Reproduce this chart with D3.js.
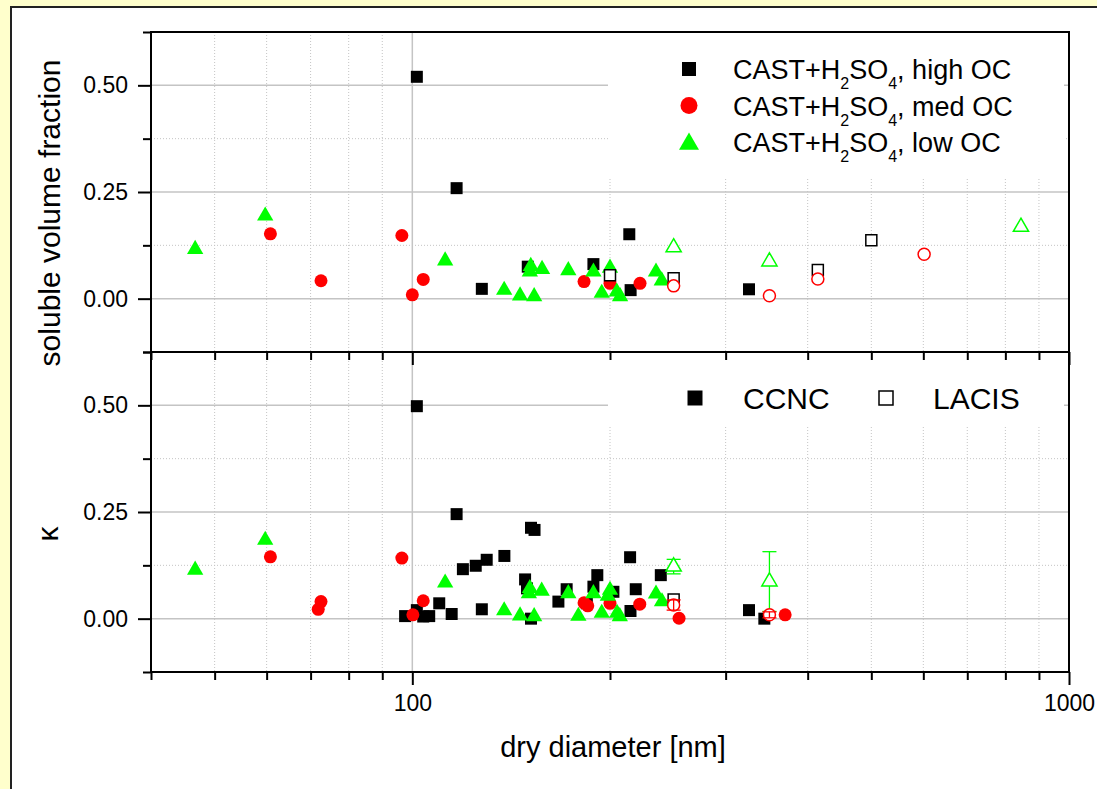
<!DOCTYPE html>
<html>
<head>
<meta charset="utf-8">
<script src="https://cdn.jsdelivr.net/npm/d3@7"></script>
<style>
body{margin:0;background:#ffffcc;}
svg{display:block;font-family:"Liberation Sans",Arial,sans-serif;}
</style>
</head>
<body>
<svg id="chart"></svg>
<script>

// [dry diameter nm, value]  -- soluble volume fraction panel
var highSvfCCNC = [[101.6,0.520],[116.8,0.259],[127.6,0.023],[149.9,0.075],[188.7,0.081],[214,0.151],[215,0.020],[325.6,0.022]];
var highSvfLACIS = [[200,0.055],[250,0.048],[414.5,0.067],[500,0.137]];
var medSvfCCNC = [[60.8,0.152],[72.6,0.042],[96.4,0.148],[100,0.009],[103.9,0.045],[182.6,0.040],[200,0.036],[222.2,0.036]];
var medSvfLACIS = [[250,0.030],[349.8,0.007],[414.5,0.046],[601.7,0.104]];
var lowSvfCCNC = [[46.7,0.116],[59.7,0.194],[112.2,0.089],[138,0.020],[145.9,0.007],[151,0.063],[151.5,0.076],[157.6,0.069],[153.3,0.005],[172.8,0.066],[188.7,0.063],[194.3,0.013],[200,0.072],[204.8,0.016],[207.2,0.005],[235,0.063],[239.8,0.042]];
var lowSvfLACIS = [[250,0.120],[349.8,0.087],[845,0.168]];

// [dry diameter nm, value]  -- kappa panel
var highKapCCNC = [[97.5,0.006],[101.6,0.020],[103.9,0.005],[106.1,0.006],[101.6,0.498],[109.9,0.036],[114.8,0.011],[116.8,0.245],[119.4,0.116],[124.9,0.124],[127.6,0.022],[129.8,0.138],[138.1,0.147],[148.5,0.092],[149.5,0.071],[151.6,0.213],[153.5,0.208],[151.6,0.000],[166.9,0.040],[171.8,0.069],[184.4,0.036],[188.7,0.075],[191.3,0.102],[202.4,0.063],[214.6,0.144],[214.9,0.018],[218.9,0.069],[239,0.102],[325.6,0.020],[343.6,0.000]];
var highKapLACIS = [[250,0.045]];
var medKapCCNC = [[60.8,0.145],[71.9,0.022],[72.6,0.040],[96.4,0.142],[100.2,0.009],[103.9,0.042],[182.6,0.037],[185,0.030],[200,0.036],[222,0.034],[254.8,0.001],[369.6,0.009]];
var medKapLACIS = [[250,0.032],[349.8,0.009]];
var medKapLACISErr = [0.012,0.007];
var lowKapCCNC = [[46.7,0.114],[59.7,0.184],[112.2,0.084],[138,0.019],[145.9,0.007],[151,0.071],[150.5,0.059],[157.4,0.065],[153.3,0.005],[172.8,0.059],[179,0.006],[188.7,0.059],[194.3,0.013],[200,0.067],[198.5,0.053],[205,0.013],[207,0.005],[235,0.058],[240,0.040]];
var lowKapLACIS = [[250,0.122],[349.8,0.087]];
var lowKapLACISErr = [0.017,0.070];

var xMajor = [100,1000];
var xMinor = [40,50,60,70,80,90,200,300,400,500,600,700,800,900];
var yMajor = [0,0.25,0.5];
var yMinor = [-0.125,0.125,0.375,0.625];

var legendNames = ["high OC","med OC","low OC"];
var legendMethods = ["CCNC","LACIS"];

var screen = {width:1097, height:789};
var plot = {left:151, right:1069, top:32, mid:352, bottom:672};

var svg = d3.select("#chart")
    .attr("width",screen.width)
    .attr("height",screen.height);

// page frame
svg.append("rect")
    .attr("x",11).attr("y",7)
    .attr("width",1110).attr("height",800)
    .attr("fill","white")
    .attr("stroke","#222")
    .attr("stroke-width",2);

var xScale = d3.scaleLog().domain([40,1000]).range([plot.left,plot.right]);
var yTop = d3.scaleLinear().domain([-0.125,0.625]).range([plot.mid,plot.top]);
var yBot = d3.scaleLinear().domain([-0.125,0.625]).range([plot.bottom,plot.mid]);

var colors = {high:"#000000", med:"#ff0000", low:"#00ff00"};

var drawGrid = function(yScale,y0,y1)
{
    var grid = svg.append("g").classed("grid",true);
    grid.selectAll(".vminor").data(xMinor).enter().append("line")
        .attr("x1",function(d){return xScale(d);})
        .attr("x2",function(d){return xScale(d);})
        .attr("y1",y0).attr("y2",y1)
        .attr("stroke","#c4c4c4").attr("stroke-width",1)
        .attr("stroke-dasharray","1,2");
    grid.selectAll(".vmajor").data(xMajor).enter().append("line")
        .attr("x1",function(d){return xScale(d);})
        .attr("x2",function(d){return xScale(d);})
        .attr("y1",y0).attr("y2",y1)
        .attr("stroke","#c4c4c4").attr("stroke-width",1.5);
    grid.selectAll(".hminor").data(yMinor).enter().append("line")
        .attr("x1",plot.left).attr("x2",plot.right)
        .attr("y1",function(d){return yScale(d);})
        .attr("y2",function(d){return yScale(d);})
        .attr("stroke","#c4c4c4").attr("stroke-width",1)
        .attr("stroke-dasharray","1,2");
    grid.selectAll(".hmajor").data(yMajor).enter().append("line")
        .attr("x1",plot.left).attr("x2",plot.right)
        .attr("y1",function(d){return yScale(d);})
        .attr("y2",function(d){return yScale(d);})
        .attr("stroke","#c4c4c4").attr("stroke-width",1.5);
}

var drawAxes = function(yScale,y0,y1,xLabels)
{
    var axes = svg.append("g").classed("axes",true);

    var xMaj = d3.axisBottom(xScale).tickValues(xMajor).tickSize(13).tickPadding(10)
        .tickSizeOuter(0).tickFormat(xLabels ? d3.format("d") : "");
    var xMin = d3.axisBottom(xScale).tickValues(xMinor).tickSize(8)
        .tickSizeOuter(0).tickFormat("");
    var yMaj = d3.axisLeft(yScale).tickValues(yMajor).tickSize(13).tickPadding(10)
        .tickSizeOuter(0).tickFormat(d3.format(".2f"));
    var yMin = d3.axisLeft(yScale).tickValues(yMinor).tickSize(8)
        .tickSizeOuter(0).tickFormat("");

    [xMaj,xMin].forEach(function(ax)
    {
        axes.append("g").attr("transform","translate(0,"+y1+")").call(ax);
    });
    [yMaj,yMin].forEach(function(ax)
    {
        axes.append("g").attr("transform","translate("+plot.left+",0)").call(ax);
    });

    axes.selectAll(".domain").remove();
    axes.selectAll(".tick line").attr("stroke","black").attr("stroke-width",2);
    axes.selectAll(".tick text")
        .attr("fill","black")
        .style("font-size","23px")
        .style("font-family","'Liberation Sans',Arial,sans-serif");

    axes.append("rect")
        .attr("x",plot.left).attr("y",y0)
        .attr("width",plot.right-plot.left).attr("height",y1-y0)
        .attr("fill","none").attr("stroke","black").attr("stroke-width",2);
}

var drawPoints = function(data,yScale,shape,size,color,filled)
{
    svg.append("g").selectAll("path")
        .data(data)
        .enter()
        .append("path")
        .attr("d",d3.symbol().type(shape).size(size))
        .attr("transform",function(d)
        {
            return "translate("+xScale(d[0])+","+yScale(d[1])+")";
        })
        .attr("fill",filled ? color : "white")
        .attr("stroke",filled ? "none" : color)
        .attr("stroke-width",1.5);
}

var drawErrors = function(data,errs,yScale,color)
{
    var g = svg.append("g").attr("stroke",color).attr("stroke-width",1.3);
    data.forEach(function(d,i)
    {
        var x = xScale(d[0]);
        var lo = yScale(d[1]-errs[i]);
        var hi = yScale(d[1]+errs[i]);
        g.append("line").attr("x1",x).attr("x2",x).attr("y1",lo).attr("y2",hi);
        g.append("line").attr("x1",x-7).attr("x2",x+7).attr("y1",lo).attr("y2",lo);
        g.append("line").attr("x1",x-7).attr("x2",x+7).attr("y1",hi).attr("y2",hi);
    });
}

// grids
drawGrid(yTop,plot.top,plot.mid);
drawGrid(yBot,plot.mid,plot.bottom);

// legend backgrounds cover the grid
svg.append("rect").attr("x",608).attr("y",33).attr("width",456).attr("height",146).attr("fill","white");
svg.append("rect").attr("x",608).attr("y",353).attr("width",456).attr("height",72).attr("fill","white");

// top panel points
drawPoints(highSvfCCNC,yTop,d3.symbolSquare,144,colors.high,true);
drawPoints(medSvfCCNC,yTop,d3.symbolCircle,133,colors.med,true);
drawPoints(lowSvfCCNC,yTop,d3.symbolTriangle,115,colors.low,true);
drawPoints(highSvfLACIS,yTop,d3.symbolSquare,121,colors.high,false);
drawPoints(medSvfLACIS,yTop,d3.symbolCircle,113,colors.med,false);
drawPoints(lowSvfLACIS,yTop,d3.symbolTriangle,100,colors.low,false);

// bottom panel points
drawPoints(highKapCCNC,yBot,d3.symbolSquare,144,colors.high,true);
drawPoints(medKapCCNC,yBot,d3.symbolCircle,133,colors.med,true);
drawPoints(lowKapCCNC,yBot,d3.symbolTriangle,115,colors.low,true);
drawPoints(highKapLACIS,yBot,d3.symbolSquare,121,colors.high,false);
drawErrors(lowKapLACIS,lowKapLACISErr,yBot,colors.low);
drawPoints(lowKapLACIS,yBot,d3.symbolTriangle,100,colors.low,false);
drawPoints(medKapLACIS,yBot,d3.symbolCircle,113,colors.med,false);
drawErrors(medKapLACIS,medKapLACISErr,yBot,colors.med);

drawAxes(yTop,plot.top,plot.mid,false);
drawAxes(yBot,plot.mid,plot.bottom,true);

// top legend
var legendShapes = [d3.symbolSquare,d3.symbolCircle,d3.symbolTriangle];
var legendSizes = [196,227,173];
var legendColors = [colors.high,colors.med,colors.low];
var legend = svg.append("g").classed("legend",true);
var entries = legend.selectAll("g")
    .data(legendNames)
    .enter()
    .append("g")
    .attr("transform",function(d,i){return "translate(0,"+(i*36.5)+")";});
entries.append("path")
    .attr("d",function(d,i){return d3.symbol().type(legendShapes[i]).size(legendSizes[i])();})
    .attr("transform",function(d,i){return "translate(689,"+(i==2 ? 71 : 69)+")";})
    .attr("fill",function(d,i){return legendColors[i];});
var lt = entries.append("text")
    .attr("x",733).attr("y",79)
    .style("font-size","27px");
lt.append("tspan").text("CAST+H");
lt.append("tspan").text("2").style("font-size","16px").attr("dy",10);
lt.append("tspan").text("SO").attr("dy",-10);
lt.append("tspan").text("4").style("font-size","16px").attr("dy",10);
lt.append("tspan").text(function(d){return ", "+d;}).attr("dy",-10);

// bottom legend
svg.append("path")
    .attr("d",d3.symbol().type(d3.symbolSquare).size(225)())
    .attr("transform","translate(695,398)")
    .attr("fill","black");
svg.append("path")
    .attr("d",d3.symbol().type(d3.symbolSquare).size(196)())
    .attr("transform","translate(886,398)")
    .attr("fill","white").attr("stroke","black").attr("stroke-width",1.5);
svg.append("text").attr("x",743).attr("y",409).style("font-size","30px").text(legendMethods[0]);
svg.append("text").attr("x",933).attr("y",409).style("font-size","30px").text(legendMethods[1]);

// axis titles
svg.append("text")
    .attr("transform","translate(60,213) rotate(-90)")
    .attr("text-anchor","middle")
    .style("font-size","30px")
    .text("soluble volume fraction");
svg.append("text")
    .attr("transform","translate(58,534) rotate(-90)")
    .attr("text-anchor","middle")
    .style("font-size","30px")
    .text("κ");
svg.append("text")
    .attr("x",613).attr("y",757)
    .attr("text-anchor","middle")
    .style("font-size","29px")
    .text("dry diameter [nm]");

</script>
</body>
</html>
